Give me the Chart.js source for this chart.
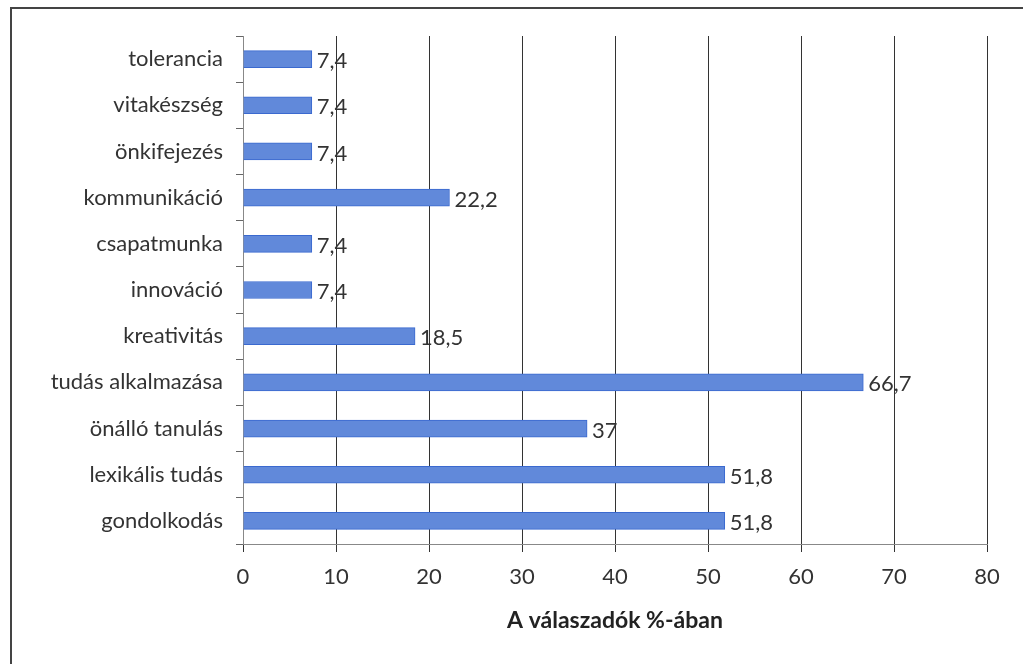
<!DOCTYPE html>
<html lang="hu">
<head>
<meta charset="utf-8">
<title>Kompetenciák</title>
<script src="https://cdn.jsdelivr.net/npm/chart.js@4.4.1/dist/chart.umd.min.js"></script>
<style>
    html, body { margin: 0; padding: 0; background: #fff; }
    #wrap { position: relative; width: 1023px; height: 664px; }
    #frame {
        position: absolute; left: 10px; top: 7px; right: 0; bottom: 0;
        border-top: 2px solid #444; border-left: 2px solid #444;
    }
    #chart { position: absolute; left: 0; top: 0; }
</style>
</head>
<body>
<div id="wrap">
    <div id="frame"></div>
    <canvas id="chart" width="1023" height="664"></canvas>
</div>
<script>
const categories = [
    "tolerancia",
    "vitakészség",
    "önkifejezés",
    "kommunikáció",
    "csapatmunka",
    "innováció",
    "kreativitás",
    "tudás alkalmazása",
    "önálló tanulás",
    "lexikális tudás",
    "gondolkodás"
];
const percentages = [7.4, 7.4, 7.4, 22.2, 7.4, 7.4, 18.5, 66.7, 37, 51.8, 51.8];
const axisTitle = "A válaszadók %-ában";

const fontFamily = "Lato, 'Open Sans', sans-serif";

// értékcímkék a sávok végén (vesszős tizedesjel)
const valueLabels = {
    id: 'valueLabels',
    afterDatasetsDraw(chart) {
        const ctx = chart.ctx;
        const meta = chart.getDatasetMeta(0);
        ctx.save();
        ctx.font = `22px ${fontFamily}`;
        ctx.fillStyle = '#333';
        ctx.textAlign = 'left';
        ctx.textBaseline = 'middle';
        meta.data.forEach((bar, i) => {
            const text = String(percentages[i]).replace('.', ',');
            ctx.fillText(text, bar.x + 5, bar.y + 2);
        });
        ctx.restore();
    }
};

const ctx = document.getElementById('chart').getContext('2d');
new Chart(ctx, {
    type: 'bar',
    data: {
        labels: categories,
        datasets: [{
            data: percentages,
            backgroundColor: '#6189da',
            borderColor: '#3a69cf',
            borderWidth: 1,
            barThickness: 17
        }]
    },
    options: {
        indexAxis: 'y',
        responsive: false,
        animation: false,
        layout: { padding: { top: 36, right: 36, bottom: 30, left: 0 } },
        plugins: {
            legend: { display: false },
            tooltip: { enabled: false }
        },
        scales: {
            x: {
                min: 0,
                max: 80,
                ticks: {
                    stepSize: 10,
                    color: '#333',
                    padding: 12,
                    font: { family: fontFamily, size: 22 }
                },
                grid: {
                    color: '#333',
                    lineWidth: 1,
                    tickLength: 8,
                    drawTicks: true
                },
                border: { display: true, color: '#888', width: 1 },
                title: {
                    display: true,
                    text: axisTitle,
                    color: '#222',
                    padding: { top: 4, bottom: 0 },
                    font: { family: fontFamily, size: 23, weight: 'bold' }
                }
            },
            y: {
                afterFit: scale => { scale.width = 243; },
                ticks: {
                    color: '#333',
                    padding: 13,
                    font: { family: fontFamily, size: 22 }
                },
                grid: {
                    offset: true,
                    drawOnChartArea: false,
                    drawTicks: true,
                    tickLength: 7,
                    color: '#666'
                },
                border: { display: true, color: '#888', width: 1 }
            }
        }
    },
    plugins: [valueLabels]
});
</script>
</body>
</html>
